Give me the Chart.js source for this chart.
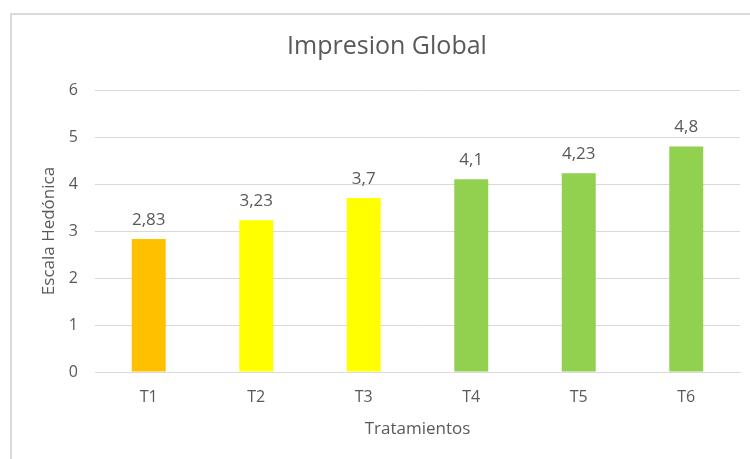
<!DOCTYPE html>
<html>
<head>
<meta charset="utf-8">
<script src="https://cdn.jsdelivr.net/npm/chart.js@4.4.0/dist/chart.umd.min.js"></script>
<style>
  html, body { margin: 0; padding: 0; background: #fff; overflow: hidden; }
  #marco { position: absolute; left: 10px; top: 13px; width: 800px; height: 500px; border: 2px solid #d9d9d9; box-sizing: border-box; }
  #contenedor { position: absolute; left: 0; top: 0; width: 750px; height: 459px; }
</style>
</head>
<body>
<div id="marco"></div>
<div id="contenedor"><canvas id="grafico"></canvas></div>
<script>
// Datos
const tratamientos = ['T1', 'T2', 'T3', 'T4', 'T5', 'T6'];
const valores = [2.83, 3.23, 3.7, 4.1, 4.23, 4.8];
const colores = ['#FFC000', '#FFFF00', '#FFFF00', '#92D050', '#92D050', '#92D050'];
const ticksY = [0, 1, 2, 3, 4, 5, 6];

const gris = '#595959';
const fuente = "'Open Sans', 'Noto Sans', sans-serif";

// Etiquetas de valor encima de cada barra (con coma decimal)
const etiquetasValor = {
    id: 'etiquetasValor',
    afterDatasetsDraw(chart) {
        const ctx = chart.ctx;
        const meta = chart.getDatasetMeta(0);
        ctx.save();
        ctx.font = '17px ' + fuente;
        ctx.fillStyle = gris;
        ctx.textAlign = 'center';
        ctx.textBaseline = 'middle';
        meta.data.forEach((barra, i) => {
            const texto = String(valores[i]).replace('.', ',');
            ctx.fillText(texto, barra.x, barra.y - 19);
        });
        ctx.restore();
    }
};

new Chart(document.getElementById('grafico').getContext('2d'), {
    type: 'bar',
    data: {
        labels: tratamientos,
        datasets: [{
            data: valores,
            backgroundColor: colores,
            borderWidth: 0,
            barPercentage: 0.316,
            categoryPercentage: 1
        }]
    },
    options: {
        responsive: true,
        maintainAspectRatio: false,
        animation: false,
        layout: { padding: { left: 34, right: 10, top: 0, bottom: 0 } },
        plugins: {
            legend: { display: false },
            tooltip: { enabled: false },
            title: {
                display: true,
                text: 'Impresion Global',
                color: gris,
                font: { family: fuente, size: 25, weight: 'normal' },
                padding: { top: 32, bottom: 28 }
            }
        },
        scales: {
            y: {
                min: 0,
                max: 6,
                afterBuildTicks: s => { s.ticks = ticksY.map(v => ({ value: v })); },
                afterFit: s => { s.width = 61; },
                border: { display: false },
                grid: { color: '#d9d9d9', lineWidth: 1, drawTicks: false },
                ticks: { color: gris, font: { family: fuente, size: 16 }, padding: 17 },
                title: {
                    display: true,
                    text: 'Escala Hedónica',
                    color: gris,
                    font: { family: fuente, size: 17 },
                    padding: { top: 5, bottom: 0 }
                }
            },
            x: {
                afterFit: s => { s.height = 87; },
                grid: { display: false, drawTicks: false },
                border: { display: true, color: '#d9d9d9', width: 1 },
                ticks: { color: gris, font: { family: fuente, size: 16 }, padding: 16 },
                title: {
                    display: true,
                    text: 'Tratamientos',
                    color: gris,
                    font: { family: fuente, size: 17 },
                    padding: { top: 0, bottom: 20 }
                }
            }
        }
    },
    plugins: [etiquetasValor]
});
</script>
</body>
</html>
